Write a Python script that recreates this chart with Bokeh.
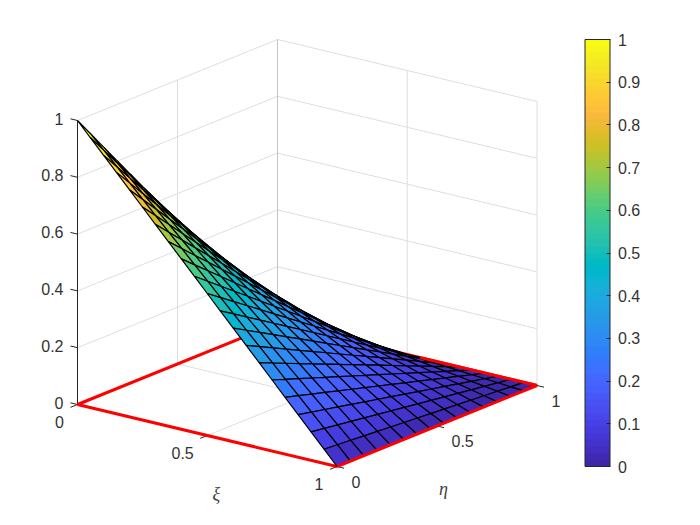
from bokeh.plotting import figure
from bokeh.models import Range1d, ColorBar, LinearColorMapper, FixedTicker
from bokeh.core.properties import value
from bokeh.embed import file_html
from bokeh.resources import INLINE

xi_grid = [0, .05, .1, .15, .2, .25, .3, .35, .4, .45, .5, .55, .6, .65, .7, .75, .8, .85, .9, .95, 1]
eta_grid = [0, .0667, .1333, .2, .2667, .3333, .4, .4667, .5333, .6, .6667, .7333, .8, .8667, .9333, 1]
# rows: xi, columns: eta
z_rows = [
 [1,.9333,.8667,.8,.7333,.6667,.6,.5333,.4667,.4,.3333,.2667,.2,.1333,.0667,0],
 [.95,.8867,.8233,.76,.6967,.6333,.57,.5067,.4433,.38,.3167,.2533,.19,.1267,.0633,0],
 [.9,.84,.78,.72,.66,.6,.54,.48,.42,.36,.3,.24,.18,.12,.06,0],
 [.85,.7933,.7367,.68,.6233,.5667,.51,.4533,.3967,.34,.2833,.2267,.17,.1133,.0567,0],
 [.8,.7467,.6933,.64,.5867,.5333,.48,.4267,.3733,.32,.2667,.2133,.16,.1067,.0533,0],
 [.75,.7,.65,.6,.55,.5,.45,.4,.35,.3,.25,.2,.15,.1,.05,0],
 [.7,.6533,.6067,.56,.5133,.4667,.42,.3733,.3267,.28,.2333,.1867,.14,.0933,.0467,0],
 [.65,.6067,.5633,.52,.4767,.4333,.39,.3467,.3033,.26,.2167,.1733,.13,.0867,.0433,0],
 [.6,.56,.52,.48,.44,.4,.36,.32,.28,.24,.2,.16,.12,.08,.04,0],
 [.55,.5133,.4767,.44,.4033,.3667,.33,.2933,.2567,.22,.1833,.1467,.11,.0733,.0367,0],
 [.5,.4667,.4333,.4,.3667,.3333,.3,.2667,.2333,.2,.1667,.1333,.1,.0667,.0333,0],
 [.45,.42,.39,.36,.33,.3,.27,.24,.21,.18,.15,.12,.09,.06,.03,0],
 [.4,.3733,.3467,.32,.2933,.2667,.24,.2133,.1867,.16,.1333,.1067,.08,.0533,.0267,0],
 [.35,.3267,.3033,.28,.2567,.2333,.21,.1867,.1633,.14,.1167,.0933,.07,.0467,.0233,0],
 [.3,.28,.26,.24,.22,.2,.18,.16,.14,.12,.1,.08,.06,.04,.02,0],
 [.25,.2333,.2167,.2,.1833,.1667,.15,.1333,.1167,.1,.0833,.0667,.05,.0333,.0167,0],
 [.2,.1867,.1733,.16,.1467,.1333,.12,.1067,.0933,.08,.0667,.0533,.04,.0267,.0133,0],
 [.15,.14,.13,.12,.11,.1,.09,.08,.07,.06,.05,.04,.03,.02,.01,0],
 [.1,.0933,.0867,.08,.0733,.0667,.06,.0533,.0467,.04,.0333,.0267,.02,.0133,.0067,0],
 [.05,.0467,.0433,.04,.0367,.0333,.03,.0267,.0233,.02,.0167,.0133,.01,.0067,.0033,0],
 [0,0,0,0,0,0,0,0,0,0,0,0,0,0,0,0],
]
xi_ticks = [0, .5, 1]
eta_ticks = [0, .5, 1]
z_ticks = [0, .2, .4, .6, .8, 1]
cbar_ticks = [0, .1, .2, .3, .4, .5, .6, .7, .8, .9, 1]
parula = [
 (.2422,.1504,.6603),(.2504,.1650,.7076),(.2578,.1818,.7511),(.2647,.1978,.7952),
 (.2706,.2147,.8364),(.2751,.2342,.8710),(.2783,.2559,.8991),(.2803,.2782,.9221),
 (.2813,.3006,.9414),(.2810,.3228,.9579),(.2795,.3447,.9717),(.2760,.3667,.9829),
 (.2699,.3892,.9906),(.2602,.4123,.9952),(.2440,.4358,.9988),(.2206,.4603,.9973),
 (.1963,.4847,.9892),(.1834,.5074,.9798),(.1786,.5289,.9682),(.1764,.5499,.9520),
 (.1687,.5703,.9359),(.1540,.5902,.9218),(.1460,.6091,.9079),(.1380,.6276,.8973),
 (.1248,.6459,.8883),(.1113,.6635,.8763),(.0952,.6798,.8598),(.0689,.6948,.8394),
 (.0297,.7082,.8163),(.0036,.7203,.7917),(.0067,.7312,.7660),(.0433,.7411,.7394),
 (.0964,.7500,.7120),(.1408,.7584,.6842),(.1717,.7670,.6554),(.1938,.7758,.6251),
 (.2161,.7843,.5923),(.2470,.7918,.5567),(.2906,.7973,.5188),(.3406,.8008,.4789),
 (.3909,.8029,.4354),(.4456,.8024,.3909),(.5044,.7993,.3480),(.5616,.7942,.3045),
 (.6174,.7876,.2612),(.6720,.7793,.2227),(.7242,.7698,.1910),(.7738,.7598,.1646),
 (.8203,.7498,.1535),(.8634,.7406,.1596),(.9035,.7330,.1774),(.9393,.7288,.2100),
 (.9728,.7298,.2394),(.9956,.7434,.2371),(.9970,.7659,.2199),(.9952,.7893,.2028),
 (.9892,.8136,.1885),(.9786,.8386,.1766),(.9676,.8639,.1643),(.9610,.8890,.1537),
 (.9597,.9135,.1423),(.9628,.9373,.1265),(.9691,.9606,.1064),(.9769,.9839,.0805),
]
palette = ["#%02x%02x%02x" % tuple(round(c * 255) for c in rgb) for rgb in parula]

INK = "#333333"
GRID = "#dedede"
FONT = "Liberation Sans"
SIZE = "16px"


def px(xi, eta, z=0.0):
    return 77 + 259.5 * xi + 200 * eta, 404 + 62 * xi - 81 * eta - 284 * z


def depth(xi, eta, z):
    return 190 * xi - 246 * eta + 94 * z


p = figure(width=700, height=525, x_range=Range1d(0, 700), y_range=Range1d(525, 0),
           toolbar_location=None, output_backend="svg", min_border=0,
           background_fill_color="white", border_fill_color="white", outline_line_color=None)
p.axis.visible = False
p.grid.visible = False


def seg(a, b, **kw):
    xa, ya = px(*a)
    xb, yb = px(*b)
    p.line([xa, xb], [ya, yb], **kw)


# grid lines on the floor and the two back walls
for c in xi_ticks:
    seg((c, 0, 0), (c, 1, 0), line_color=GRID, line_width=1)
    seg((c, 1, 0), (c, 1, 1), line_color=GRID, line_width=1)
for c in eta_ticks:
    seg((0, c, 0), (1, c, 0), line_color=GRID, line_width=1)
    seg((0, c, 0), (0, c, 1), line_color=GRID, line_width=1)
for c in z_ticks:
    seg((0, 0, c), (0, 1, c), line_color=GRID, line_width=1)
    seg((0, 1, c), (1, 1, c), line_color=GRID, line_width=1)
seg((0, 1, 0), (0, 1, 1), line_color="#c4c4c4", line_width=1)

# axes and ticks
seg((0, 0, 0), (0, 0, 1), line_color="#262626", line_width=1)
seg((0, 0, 0), (1, 0, 0), line_color="#262626", line_width=1)
seg((1, 0, 0), (1, 1, 0), line_color="#262626", line_width=1)
for c in z_ticks:
    seg((-0.027, 0, c), (0, 0, c), line_color="#262626", line_width=1)
for c in xi_ticks:
    seg((c, -0.035, 0), (c, 0, 0), line_color="#262626", line_width=1)
for c in eta_ticks:
    seg((1, c, 0), (1.027, c, 0), line_color="#262626", line_width=1)

# red square, part behind the surface
RED = "#ff0000"
seg((0, 0, 0), (0, 1, 0), line_color=RED, line_width=3)
seg((0, 1, 0), (1, 1, 0), line_color=RED, line_width=3)
seg((0, 0, 0), (1, 0, 0), line_color=RED, line_width=3)

# surface, painted back to front
faces = []
for i in range(len(xi_grid) - 1):
    for j in range(len(eta_grid) - 1):
        corners = [(i, j), (i + 1, j), (i + 1, j + 1), (i, j + 1)]
        pts = [px(xi_grid[a], eta_grid[b], z_rows[a][b]) for a, b in corners]
        d = sum(depth(xi_grid[a], eta_grid[b], z_rows[a][b]) for a, b in corners) / 4
        idx = min(63, int(z_rows[i][j] * 64))
        faces.append((d, [q[0] for q in pts], [q[1] for q in pts], palette[idx]))
faces.sort(key=lambda f: f[0])
p.patches([f[1] for f in faces], [f[2] for f in faces], fill_color=[f[3] for f in faces],
          line_color="black", line_width=1.2)

# red edges in front of the surface
seg((1, 0, 0), (1, 1, 0), line_color=RED, line_width=3)
seg((.55, 1, 0), (1, 1, 0), line_color=RED, line_width=3)


def label(point, txt, dx, dy, align, font=FONT, style="normal", size=SIZE, color=INK):
    x, y = px(*point)
    p.text([x], [y], text=[txt], x_offset=dx, y_offset=dy, text_align=align,
           text_baseline="middle", text_font=value(font), text_font_style=style,
           text_font_size=size, text_color=color)


def fmt(v):
    return "%g" % v


for c in z_ticks:
    label((0, 0, c), fmt(c), -14, -2, "right")
for c in xi_ticks:
    label((c, 0, 0), fmt(c), -13.5, 17, "right")
for c in eta_ticks:
    label((1, c, 0), fmt(c), 14.5, 15, "left")
label((.5, 0, 0), "\u03be", 9, 58, "center", font="Liberation Serif", style="italic", size="18px", color="#404040")
label((1, .5, 0), "\u03b7", 6.5, 63, "center", font="Liberation Serif", style="italic", size="18px", color="#404040")

mapper = LinearColorMapper(palette=palette, low=0, high=1)
cb = ColorBar(color_mapper=mapper, width=25, height=427, location=(584.5, 59), padding=0, margin=0,
              ticker=FixedTicker(ticks=cbar_ticks), major_label_overrides={c: fmt(c) for c in cbar_ticks},
              major_tick_in=4, major_tick_out=0, major_tick_line_color="#262626", major_tick_line_width=1,
              minor_tick_line_color=None, bar_line_color="#262626", bar_line_width=1,
              major_label_text_font=FONT, major_label_text_font_size=SIZE,
              major_label_text_color=INK, label_standoff=8, background_fill_color=None,
              border_line_color=None)
p.add_layout(cb, "center")

open("out.html", "w").write(file_html(p, INLINE))
